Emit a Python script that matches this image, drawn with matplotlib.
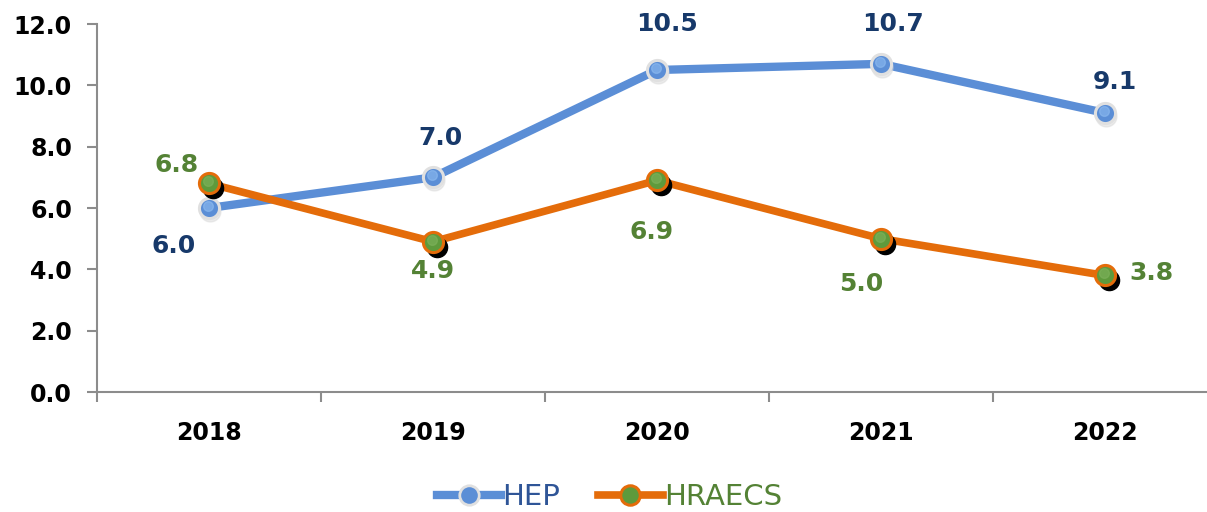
import matplotlib
matplotlib.use("Agg")
import matplotlib.pyplot as plt
from matplotlib.transforms import offset_copy
from matplotlib.lines import Line2D

years = ["2018", "2019", "2020", "2021", "2022"]
hep = [6.0, 7.0, 10.5, 10.7, 9.1]
hraecs = [6.8, 4.9, 6.9, 5.0, 3.8]
yticks = [0, 2, 4, 6, 8, 10, 12]

# label offsets in pixels (dx, dy) relative to point
hep_off = [(-35, -38), (8, 39), (10, 46), (12, 40), (10, 31)]
hra_off = [(-32, 18), (0, -29), (-5, -52), (-20, -45), (46, 2)]

BLUE = "#5B8ED6"
ORANGE = "#E46C0A"
GREEN = "#5E9A3C"
NAVY = "#17396A"
LGREEN = "#548235"
GRAY = "#8C8C8C"

plt.rcParams['font.family'] = ['DejaVu Sans']
fig = plt.figure(figsize=(12.07, 5.12), dpi=100)
ax = fig.add_axes([97/1207, 1-392/512, (1207-97)/1207, (392-24)/512])

x = list(range(len(years)))
ax.plot(x, hep, color=BLUE, lw=6, solid_capstyle='round', zorder=2)
ax.plot(x, hraecs, color=ORANGE, lw=5.5, solid_capstyle='round', zorder=3)

sh1 = offset_copy(ax.transData, fig=fig, x=1, y=-3, units='dots')
ax.plot(x, hep, ls='none', marker='o', ms=15, color='#D9D9D9', alpha=0.5, transform=sh1, zorder=4)
ax.plot(x, hep, ls='none', marker='o', ms=14.5, mfc=BLUE, mec='#E0E0E0', mew=2.2, zorder=5)
hl1 = offset_copy(ax.transData, fig=fig, x=-1, y=2, units='dots')
ax.plot(x, hep, ls='none', marker='o', ms=7, color='#8DBBF0', alpha=0.6, transform=hl1, zorder=6)

sh2 = offset_copy(ax.transData, fig=fig, x=4, y=-5, units='dots')
ax.plot(x, hraecs, ls='none', marker='o', ms=14.5, color='black', transform=sh2, zorder=6)
ax.plot(x, hraecs, ls='none', marker='o', ms=14.5, mfc=GREEN, mec=ORANGE, mew=2.2, zorder=7)
hl2 = offset_copy(ax.transData, fig=fig, x=-1, y=2, units='dots')
ax.plot(x, hraecs, ls='none', marker='o', ms=7, color='#7FB35C', alpha=0.6, transform=hl2, zorder=8)

for i, v in enumerate(hep):
    dx, dy = hep_off[i]
    ax.annotate(f"{v:.1f}", (i, v), xytext=(dx, dy), textcoords='offset pixels',
                ha='center', va='center', fontsize=18, fontweight='bold', color=NAVY, zorder=10)
for i, v in enumerate(hraecs):
    dx, dy = hra_off[i]
    ax.annotate(f"{v:.1f}", (i, v), xytext=(dx, dy), textcoords='offset pixels',
                ha='center', va='center', fontsize=18, fontweight='bold', color=LGREEN, zorder=10)

ax.set_xlim(-0.5, (1207-97)/224 - 0.5)
ax.set_ylim(0, 12)
ax.set_yticks(yticks)
ax.set_yticklabels([f"{t:.1f}" for t in yticks], fontsize=17, fontweight='bold')
ax.set_xticks(x)
ax.set_xticklabels(years, fontsize=17, fontweight='bold')
ax.tick_params(axis='x', length=0, pad=21)
ax.set_xticks([i - 0.5 for i in range(len(years))], minor=True)
ax.tick_params(axis='x', which='minor', length=7, color=GRAY, width=1.5)
ax.tick_params(axis='y', length=7, color=GRAY, width=1.5, pad=11)
for s in ['top', 'right']:
    ax.spines[s].set_visible(False)
for s in ['left', 'bottom']:
    ax.spines[s].set_color(GRAY)
    ax.spines[s].set_linewidth(1.5)

h1 = Line2D([], [], color=BLUE, lw=6, marker='o', ms=14, mfc=BLUE, mec='#E0E0E0', mew=2)
h2 = Line2D([], [], color=ORANGE, lw=5.5, marker='o', ms=14, mfc=GREEN, mec=ORANGE, mew=2.2)
leg = fig.legend([h1, h2], ["HEP", "HRAECS"], loc='center', bbox_to_anchor=(0.505, 1-497/512),
                 ncol=2, frameon=False, prop={'size': 21}, handlelength=2.2,
                 handletextpad=0.05, columnspacing=1.3)
for t, c in zip(leg.get_texts(), ["#2F5597", LGREEN]):
    t.set_color(c)

fig.savefig("out.png", dpi=100)
